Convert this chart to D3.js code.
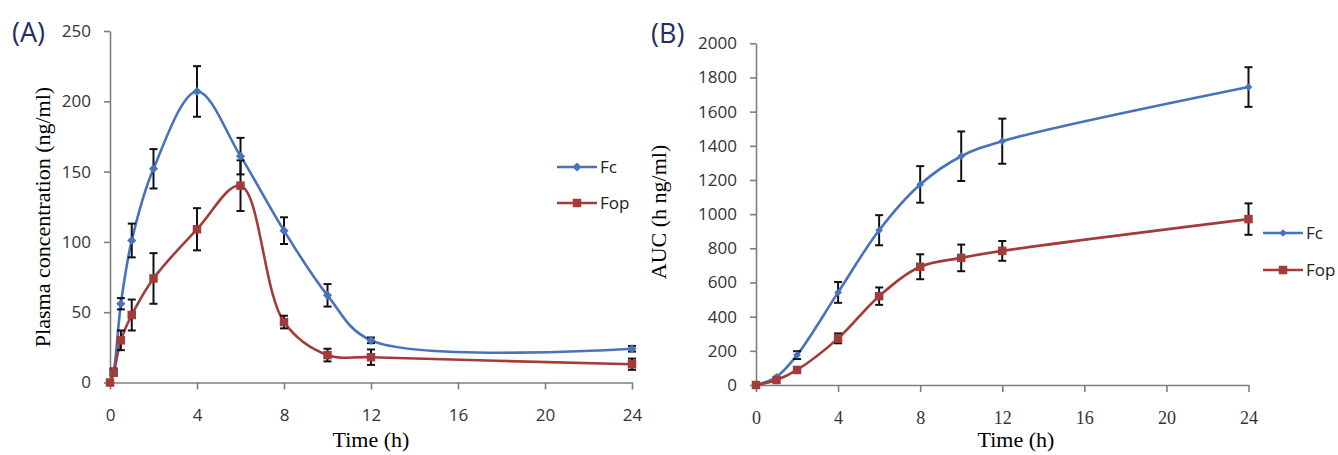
<!DOCTYPE html>
<html>
<head>
<meta charset="utf-8">
<script src="https://cdn.jsdelivr.net/npm/d3@7"></script>
<style>
  body { margin: 0; background: #fff; }
  .tick text { fill: #333; }
</style>
</head>
<body>
<div id="chart-area"></div>
<script>
// panel A: plasma concentration
let timesA = [0, 0.17, 0.5, 1, 2, 4, 6, 8, 10, 12, 24]
let fcConc = [0, 8, 56, 101, 152, 207, 161, 108, 62, 30, 24]
let fcConcErr = [0, 2, 4, 12, 14, 18, 13, 9.5, 8, 2, 2]
let fopConc = [0, 7, 30, 48, 74, 109, 140, 43, 19.5, 18, 13]
let fopConcErr = [0, 2, 7, 11, 18, 15, 18, 4.5, 4.5, 5.5, 4]

// panel B: AUC
let timesB = [0, 1, 2, 4, 6, 8, 10, 12, 24]
let fcAuc = [0, 48, 175, 542, 906, 1174, 1339, 1427, 1744]
let fcAucErr = [0, 0, 23, 61, 88, 107, 145, 132, 116]
let fopAuc = [0, 29, 88, 273, 520, 692, 744, 785, 971]
let fopAucErr = [0, 0, 10, 29, 51, 73, 78, 58, 92]

let xTicks = [0, 4, 8, 12, 16, 20, 24]
let yTicksA = [0, 50, 100, 150, 200, 250]
let yTicksB = [0, 200, 400, 600, 800, 1000, 1200, 1400, 1600, 1800, 2000]
let seriesNames = ["Fc", "Fop"]

let blue = "#4872bb"
let red = "#a33b3b"
let sans = "'Open Sans', sans-serif"
let serif = "'Liberation Serif', 'Times New Roman', serif"

let svg = d3.select("#chart-area").append("svg")
  .attr("width", 1338)
  .attr("height", 455)

function zip(t, v, e) {
  return t.map((d, i) => ({t: d, v: v[i], e: e[i]}))
}

function panel(p) {
  let x = d3.scaleLinear().domain([0, 24]).range(p.xRange)
  let y = d3.scaleLinear().domain(p.yDomain).range(p.yRange)
  let g = svg.append("g")

  // x axis
  let xAxis = g.append("g")
    .attr("transform", "translate(0," + p.yRange[0] + ")")
    .call(d3.axisBottom(x).tickValues(xTicks).tickSize(7).tickSizeOuter(0).tickPadding(19))
  xAxis.selectAll("text").attr("font-family", p.xFont).attr("font-size", p.xFontSize)

  // y axis
  let yAxis = g.append("g")
    .attr("transform", "translate(" + p.xRange[0] + ",0)")
    .call(d3.axisLeft(y).tickValues(p.yTicks).tickFormat(d3.format("d"))
      .tickSize(6).tickSizeOuter(0).tickPadding(13))
  yAxis.selectAll("text").attr("font-family", sans).attr("font-size", 17)

  g.selectAll(".domain, .tick line").attr("stroke", "#7f7f7f").attr("stroke-width", 1.6)

  // titles
  g.append("text")
    .attr("x", p.xTitle[0]).attr("y", p.xTitle[1])
    .attr("text-anchor", "middle")
    .attr("font-family", serif).attr("font-size", 22)
    .text("Time (h)")
  g.append("text")
    .attr("transform", "translate(" + p.yTitle[0] + "," + p.yTitle[1] + ") rotate(-90)")
    .attr("text-anchor", "middle")
    .attr("dy", "0.35em")
    .attr("font-family", serif).attr("font-size", 22)
    .text(p.yLabel)
  g.append("text")
    .attr("x", p.tag[0]).attr("y", p.tag[1])
    .attr("font-family", sans).attr("font-size", 27)
    .attr("fill", "#1f2f5e")
    .text(p.tagText)

  let line = d3.line()
    .x(d => x(d.t))
    .y(d => y(d.v))
    .curve(d3.curveCatmullRom.alpha(0.5))

  p.series.forEach(s => {
    g.append("path")
      .datum(s.data)
      .attr("fill", "none")
      .attr("stroke", s.color)
      .attr("stroke-width", 2.6)
      .attr("d", line)
  })

  // error bars
  p.series.forEach(s => {
    let eb = g.append("g").attr("stroke", "#111").attr("stroke-width", 2)
    s.data.filter(d => d.e > 0).forEach(d => {
      let cx = x(d.t), y1 = y(d.v + d.e), y0 = y(d.v - d.e)
      eb.append("line").attr("x1", cx).attr("x2", cx).attr("y1", y1).attr("y2", y0)
      eb.append("line").attr("x1", cx - 4).attr("x2", cx + 4).attr("y1", y1).attr("y2", y1)
      eb.append("line").attr("x1", cx - 4).attr("x2", cx + 4).attr("y1", y0).attr("y2", y0)
    })
  })

  // markers
  p.series.forEach(s => {
    g.selectAll(null)
      .data(s.data)
      .enter().append("path")
      .attr("transform", d => "translate(" + x(d.t) + "," + y(d.v) + ")" + (s.diamond ? " rotate(45)" : ""))
      .attr("d", d3.symbol().type(d3.symbolSquare).size(s.size))
      .attr("fill", s.color)
  })

  // legend
  p.series.forEach((s, i) => {
    let ly = p.legend[1] + i * p.legendGap
    let lx = p.legend[0]
    g.append("line")
      .attr("x1", lx).attr("x2", lx + 40).attr("y1", ly).attr("y2", ly)
      .attr("stroke", s.color).attr("stroke-width", 2.6)
    g.append("path")
      .attr("transform", "translate(" + (lx + 20) + "," + ly + ")" + (s.diamond ? " rotate(45)" : ""))
      .attr("d", d3.symbol().type(d3.symbolSquare).size(s.size))
      .attr("fill", s.color)
    g.append("text")
      .attr("x", lx + 43).attr("y", ly).attr("dy", "0.35em")
      .attr("font-family", sans).attr("font-size", 17).attr("fill", "#222")
      .text(seriesNames[i])
  })
}

panel({
  xRange: [110, 632], yDomain: [0, 250], yRange: [382.5, 31], yTicks: yTicksA,
  xFont: sans, xFontSize: 17,
  xTitle: [371, 447], yTitle: [42, 217], yLabel: "Plasma concentration (ng/ml)",
  tag: [12, 42], tagText: "(A)",
  legend: [557, 167], legendGap: 36,
  series: [
    {data: zip(timesA, fcConc, fcConcErr), color: blue, diamond: true, size: 42},
    {data: zip(timesA, fopConc, fopConcErr), color: red, diamond: false, size: 72}
  ]
})

panel({
  xRange: [756, 1248.5], yDomain: [0, 2000], yRange: [385, 43.3], yTicks: yTicksB,
  xFont: serif, xFontSize: 18,
  xTitle: [1016, 447], yTitle: [658, 212], yLabel: "AUC (h ng/ml)",
  tag: [651, 43], tagText: "(B)",
  legend: [1263, 233], legendGap: 37,
  series: [
    {data: zip(timesB, fcAuc, fcAucErr), color: blue, diamond: true, size: 30},
    {data: zip(timesB, fopAuc, fopAucErr), color: red, diamond: false, size: 72}
  ]
})
</script>
</body>
</html>
